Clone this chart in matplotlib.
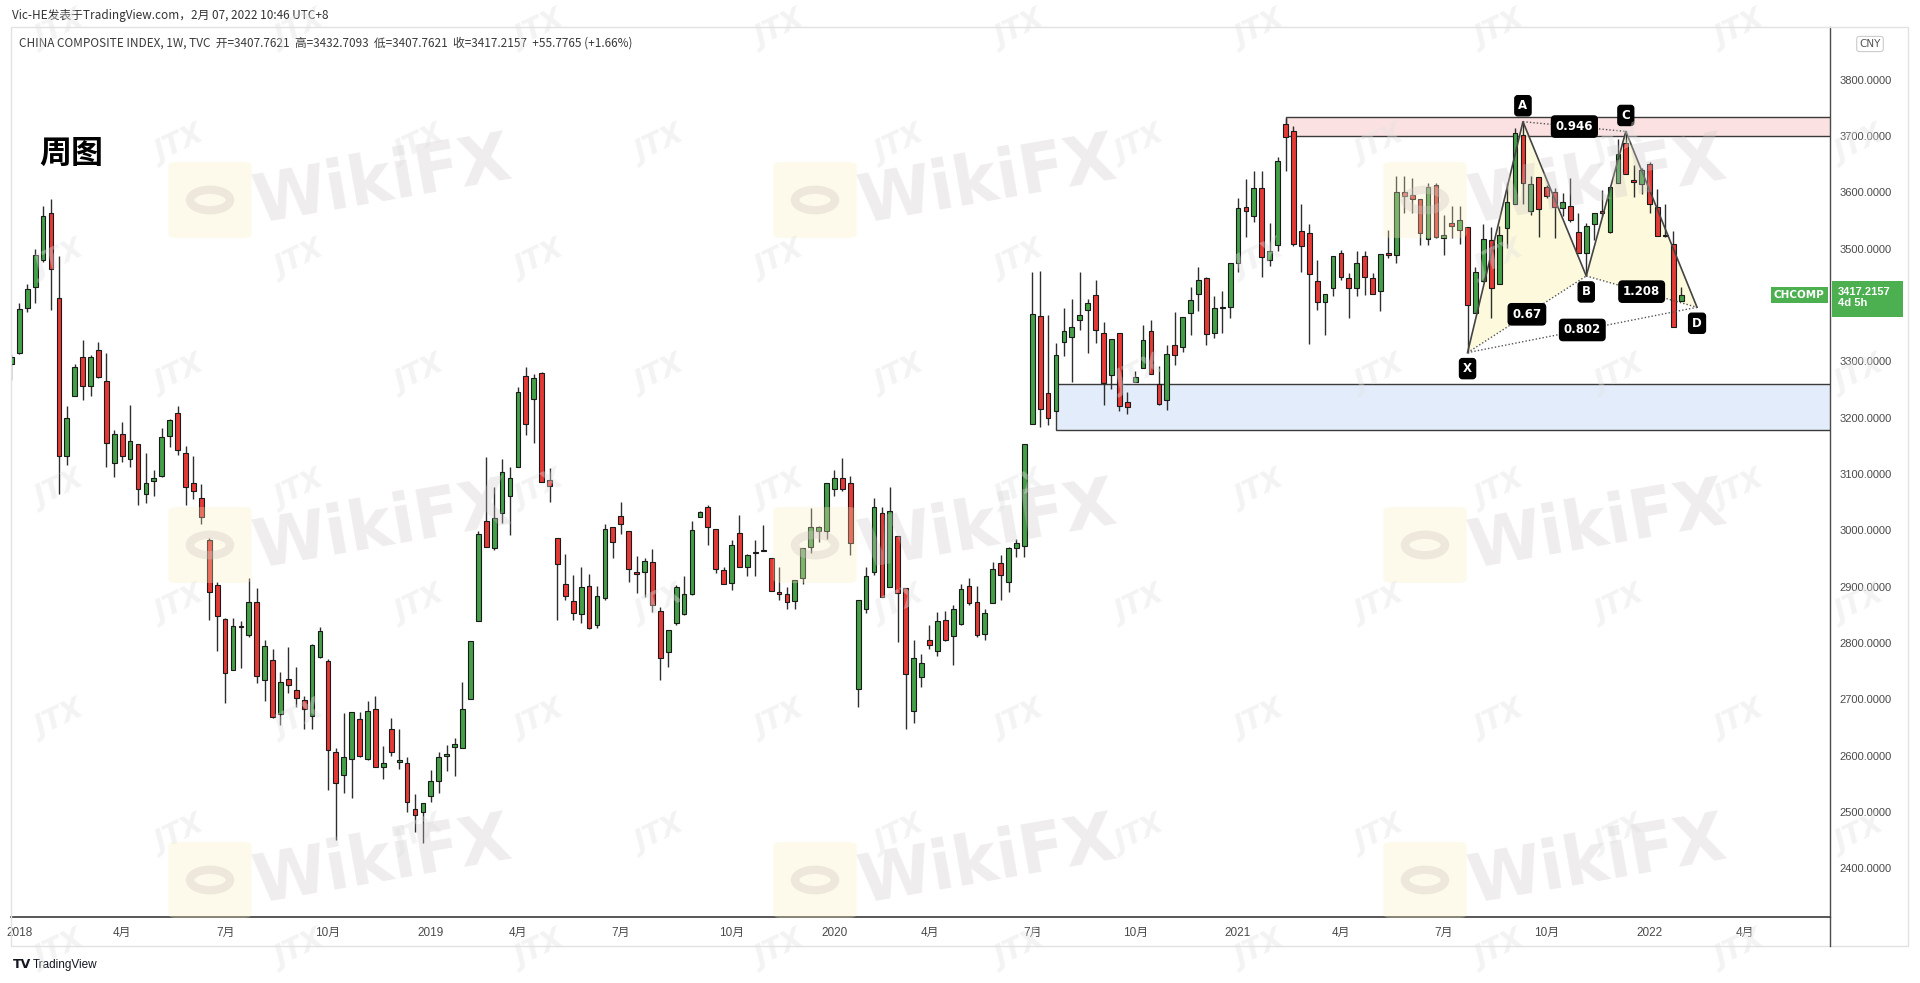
import matplotlib
matplotlib.use("Agg")
import matplotlib.pyplot as plt
from matplotlib.patches import Rectangle, Polygon, FancyBboxPatch, Circle
from matplotlib.lines import Line2D
import numpy as np

plt.rcParams["font.family"] = ["Noto Sans CJK SC", "DejaVu Sans"]

# weekly OHLC, China Composite Index (TVC), from the week of 2017-12-25
opens = [
    3296, 3315, 3394, 3431, 3480, 3564, 3412, 3131, 3238, 3307,
    3256, 3320, 3265, 3119, 3170, 3126, 3153, 3064, 3088, 3096,
    3168, 3208, 3137, 3083, 3057, 2983, 2903, 2842, 2752, 2828,
    2814, 2872, 2735, 2770, 2673, 2736, 2716, 2699, 2670, 2775,
    2768, 2606, 2566, 2594, 2665, 2594, 2682, 2580, 2647, 2589,
    2587, 2505, 2499, 2528, 2554, 2599, 2616, 2614, 2701, 2838,
    3016, 2969, 3030, 3060, 3113, 3273, 3233, 3280, 3090, 2986,
    2905, 2875, 2851, 2901, 2832, 2880, 3005, 3025, 2998, 2925,
    2925, 2944, 2856, 2783, 2835, 2851, 2887, 3024, 3042, 3002,
    2929, 2906, 2995, 2935, 2959, 2965, 2950, 2890, 2887, 2875,
    2915, 2971, 2999, 2998, 3073, 3092, 3083, 2718, 2860, 2925,
    3030, 2900, 2989, 2897, 2679, 2740, 2806, 2785, 2840, 2812,
    2834, 2901, 2873, 2816, 2871, 2941, 2909, 2968, 2972, 3189,
    3380, 3244, 3211, 3335, 3343, 3374, 3391, 3418, 3351, 3276,
    3351, 3227, 3263, 3288, 3353, 3260, 3231, 3329, 3326, 3386,
    3419, 3447, 3351, 3395, 3397, 3475, 3573, 3557, 3607, 3479,
    3506, 3721, 3708, 3532, 3527, 3443, 3406, 3430, 3493, 3447,
    3430, 3486, 3447, 3425, 3492, 3489, 3601, 3595, 3588, 3517,
    3613, 3518, 3545, 3533, 3539, 3385, 3443, 3515, 3438, 3536,
    3579, 3702, 3566, 3627, 3610, 3601, 3572, 3575, 3530, 3493,
    3543, 3566, 3530, 3616, 3688, 3622, 3615, 3650, 3573, 3523,
    3509, 3407.7621,
]
highs = [
    3312, 3403, 3437, 3499, 3576, 3588, 3487, 3221, 3296, 3338,
    3311, 3334, 3315, 3178, 3193, 3222, 3153, 3138, 3107, 3181,
    3197, 3221, 3150, 3131, 3082, 2986, 2909, 2845, 2844, 2838,
    2916, 2897, 2806, 2790, 2749, 2792, 2758, 2705, 2798, 2828,
    2772, 2613, 2675, 2677, 2677, 2696, 2705, 2617, 2666, 2647,
    2598, 2532, 2515, 2574, 2606, 2619, 2631, 2731, 2804, 2998,
    3130, 3077, 3126, 3112, 3254, 3290, 3277, 3281, 3110, 2986,
    2957, 2920, 2935, 2922, 2901, 3011, 3005, 3051, 2998, 2954,
    2950, 2966, 2864, 2823, 2903, 2919, 3017, 3035, 3045, 3002,
    2935, 2982, 3027, 2958, 2982, 3009, 2950, 2935, 2900, 2912,
    2968, 3039, 3008, 3084, 3107, 3128, 3096, 2876, 2935, 3058,
    3042, 3076, 2989, 2897, 2806, 2780, 2832, 2854, 2856, 2867,
    2905, 2915, 2901, 2861, 2944, 2956, 2971, 2984, 3153, 3459,
    3461, 3382, 3333, 3394, 3410, 3459, 3410, 3444, 3370, 3339,
    3351, 3246, 3282, 3364, 3373, 3292, 3329, 3388, 3378, 3432,
    3468, 3450, 3415, 3425, 3475, 3589, 3623, 3638, 3638, 3545,
    3663, 3732, 3718, 3579, 3544, 3479, 3420, 3487, 3498, 3456,
    3495, 3495, 3456, 3490, 3533, 3628, 3628, 3625, 3588, 3616,
    3616, 3560, 3576, 3576, 3539, 3467, 3544, 3538, 3540, 3616,
    3714, 3725, 3628, 3627, 3613, 3607, 3598, 3625, 3563, 3546,
    3563, 3604, 3609, 3694, 3708, 3648, 3643, 3654, 3605, 3580,
    3532, 3432.7093,
]
lows = [
    3267, 3312, 3388, 3404, 3476, 3391, 3064, 3116, 3238, 3231,
    3238, 3270, 3113, 3095, 3122, 3113, 3045, 3048, 3060, 3095,
    3148, 3134, 3045, 3055, 3011, 2840, 2785, 2693, 2752, 2755,
    2811, 2728, 2696, 2666, 2654, 2711, 2686, 2648, 2647, 2773,
    2539, 2450, 2533, 2524, 2598, 2592, 2580, 2558, 2600, 2577,
    2500, 2465, 2444, 2518, 2533, 2572, 2563, 2613, 2701, 2838,
    2970, 2965, 3012, 2991, 3113, 3169, 3154, 3086, 3051, 2840,
    2876, 2841, 2835, 2824, 2826, 2877, 2950, 2993, 2909, 2888,
    2882, 2854, 2735, 2758, 2832, 2850, 2885, 3023, 2974, 2924,
    2905, 2894, 2934, 2919, 2919, 2964, 2892, 2877, 2860, 2860,
    2905, 2959, 2980, 2984, 3060, 3069, 2956, 2687, 2853, 2920,
    2881, 2900, 2802, 2648, 2657, 2721, 2790, 2777, 2804, 2761,
    2832, 2867, 2811, 2805, 2870, 2876, 2891, 2952, 2953, 3189,
    3183, 3187, 3211, 3309, 3264, 3356, 3315, 3332, 3222, 3250,
    3211, 3206, 3263, 3288, 3277, 3222, 3214, 3293, 3317, 3347,
    3390, 3329, 3341, 3350, 3376, 3459, 3520, 3548, 3449, 3469,
    3495, 3637, 3504, 3459, 3331, 3391, 3347, 3415, 3444, 3376,
    3415, 3418, 3419, 3390, 3483, 3474, 3563, 3563, 3506, 3506,
    3518, 3489, 3518, 3508, 3315, 3385, 3441, 3376, 3438, 3501,
    3579, 3580, 3560, 3520, 3590, 3518, 3557, 3548, 3493, 3451,
    3515, 3557, 3528, 3616, 3632, 3592, 3597, 3563, 3522, 3520,
    3360, 3407.7621,
]
closes = [
    3308, 3392, 3429, 3489, 3558, 3464, 3131, 3200, 3289, 3256,
    3307, 3272, 3154, 3170, 3132, 3159, 3073, 3083, 3092, 3165,
    3195, 3143, 3076, 3069, 3023, 2891, 2847, 2747, 2830, 2829,
    2873, 2741, 2795, 2668, 2730, 2725, 2703, 2682, 2797, 2821,
    2609, 2551, 2598, 2677, 2599, 2679, 2580, 2587, 2606, 2593,
    2517, 2495, 2515, 2554, 2597, 2602, 2620, 2682, 2804, 2994,
    2970, 3022, 3104, 3092, 3246, 3189, 3271, 3086, 3079, 2940,
    2883, 2853, 2900, 2826, 2883, 3003, 2980, 3011, 2931, 2923,
    2945, 2867, 2774, 2823, 2899, 2886, 3000, 3032, 3006, 2932,
    2905, 2974, 2935, 2956, 2960, 2964, 2892, 2887, 2872, 2912,
    2968, 3005, 3005, 3084, 3092, 3074, 2977, 2876, 2919, 3041,
    2881, 3035, 2888, 2745, 2773, 2764, 2796, 2838, 2806, 2860,
    2895, 2870, 2814, 2853, 2931, 2921, 2968, 2978, 3153, 3384,
    3215, 3199, 3311, 3354, 3361, 3382, 3404, 3356, 3261, 3339,
    3221, 3218, 3272, 3338, 3277, 3225, 3313, 3311, 3378, 3409,
    3445, 3348, 3395, 3397, 3475, 3572, 3567, 3608, 3485, 3496,
    3656, 3698, 3509, 3504, 3455, 3406, 3419, 3487, 3450, 3430,
    3475, 3449, 3419, 3490, 3489, 3601, 3593, 3588, 3527, 3609,
    3520, 3524, 3540, 3551, 3400, 3459, 3517, 3430, 3524, 3582,
    3706, 3616, 3615, 3570, 3593, 3573, 3583, 3550, 3493, 3540,
    3563, 3564, 3609, 3668, 3633, 3619, 3640, 3580, 3522, 3522,
    3361, 3417.2157,
]

# x axis labels: bar index -> label
tick_bars = [1, 14, 27, 40, 53, 64, 77, 91, 104, 116, 129, 142, 155, 168, 181, 194, 207, 219]
tick_labels = ["2018", "4月", "7月", "10月", "2019", "4月", "7月", "10月",
               "2020", "4月", "7月", "10月", "2021", "4月", "7月", "10月", "2022", "4月"]
price_ticks = list(range(2400, 3900, 100))

# XABCD pattern
pattern_names = ["X", "A", "B", "C", "D"]
pattern_bars = [184, 191, 199, 204, 213]
pattern_prices = [3315.3, 3725.3, 3451.4, 3708.0, 3395.8]
ratio_pairs = [("X", "B"), ("A", "C"), ("B", "D"), ("X", "D")]
ratio_labels = ["0.67", "0.946", "1.208", "0.802"]

# zones: start bar, low, high
resist_zone = (161, 3700.0, 3733.0)
support_zone = (132, 3178.0, 3259.6)

last_price = 3417.2157

W, H = 1920, 983
GREEN = "#43a047"
RED = "#e53935"
XMIN, XMAX = -0.05, 229.8
YMIN, YMAX = 2313.4, 3893.4


def fx(px):
    return px / W


def fy(py):
    return 1 - py / H


fig = plt.figure(figsize=(W / 100, H / 100), dpi=100)
fig.patch.set_facecolor("white")

# watermarks (WikiFX / JTX), drawn faintly over the chart
for cx in (210, 815, 1425):
    for cy in (200, 545, 880):
        fig.patches.append(FancyBboxPatch((fx(cx - 34), fy(cy + 34)), fx(68), 68 / H,
                                          boxstyle="round,pad=0.004", transform=fig.transFigure,
                                          fc="#fbeec0", ec="none", alpha=0.3, zorder=5))
        fig.patches.append(Circle((fx(cx), fy(cy)), 20 / W, transform=fig.transFigure,
                                  fc="none", ec="#d0c8c2", lw=6, alpha=0.35, zorder=5))
        fig.text(fx(cx + 172), fy(cy - 18), "WikiFX", fontsize=48, fontweight="bold",
                 color="#cfc8c8", alpha=0.32, rotation=10, ha="center", va="center",
                 family="DejaVu Sans", zorder=5)
for row, jy in enumerate(range(30, 960, 115)):
    shift = 0 if row % 2 == 0 else 120
    for jx in range(60 + shift, 1900, 240):
        if 1700 < jx < 1830 and 220 < jy < 340:
            continue
        fig.text(fx(jx), fy(jy), "JTX", fontsize=20, fontweight="bold", style="italic",
                 color="#e2e2e2", alpha=0.4, rotation=25, ha="center", va="center",
                 family="DejaVu Sans", zorder=5)

ax = fig.add_axes([fx(11), fy(917), fx(1830) - fx(11), fy(27) - fy(917)])
ax.patch.set_alpha(0)
ax.set_xlim(XMIN, XMAX)
ax.set_ylim(YMIN, YMAX)

x = np.arange(len(opens))
o = np.array(opens)
c = np.array(closes)
up = c >= o
body_colors = np.where(up, GREEN, RED)

# zones
for (start, lo, hi), face in ((resist_zone, "#fbe1e1"), (support_zone, "#e3ecfb")):
    ax.add_patch(Rectangle((start, lo), 400, hi - lo, fc=face, ec="#3a3a3a", lw=1.0, zorder=1))

# harmonic pattern fill and legs
pts = dict(zip(pattern_names, zip(pattern_bars, pattern_prices)))
for tri in (("X", "A", "B"), ("B", "C", "D")):
    ax.add_patch(Polygon([pts[k] for k in tri], closed=True, fc="#fdf9d6", ec="none",
                         alpha=0.85, zorder=1.5))

ax.vlines(x, lows, highs, color="#2e2e2e", lw=1.0, zorder=2)
ax.bar(x, np.maximum(np.abs(c - o), 1.5), bottom=np.minimum(o, c), width=0.6,
       color=body_colors, edgecolor="#1a1a1a", linewidth=0.8, zorder=3)

ax.plot(pattern_bars, pattern_prices, color="#444444", lw=1.2, zorder=4)
for (a, b), lab in zip(ratio_pairs, ratio_labels):
    (xa, ya), (xb, yb) = pts[a], pts[b]
    ax.plot([xa, xb], [ya, yb], color="#555555", lw=1.0, ls=(0, (1, 1.5)), zorder=4)
    ax.text((xa + xb) / 2, (ya + yb) / 2, lab, color="white", fontsize=8.5,
            fontweight="bold", ha="center", va="center", family="DejaVu Sans", zorder=6,
            bbox=dict(boxstyle="round,pad=0.35,rounding_size=0.3", fc="black", ec="black"))

for name, bx, py in zip(pattern_names, pattern_bars, pattern_prices):
    dy = 11.5 if name in ("A", "C") else -11.5
    ax.annotate(name, (bx, py), xytext=(0, dy), textcoords="offset points",
                color="white", fontsize=8.5, fontweight="bold", ha="center", va="center",
                family="DejaVu Sans", zorder=6,
                bbox=dict(boxstyle="round,pad=0.3,rounding_size=0.25", fc="black", ec="black"))

# axes styling
for side in ("top", "left"):
    ax.spines[side].set_visible(False)
ax.spines["bottom"].set_color("#4a4a4a")
ax.spines["bottom"].set_linewidth(1.3)
ax.spines["right"].set_color("#4a4a4a")
ax.spines["right"].set_linewidth(1.0)

ax.yaxis.tick_right()
ax.set_yticks(price_ticks)
# the 3400 label sits under the last-price box
ax.set_yticklabels(["" if abs(p - last_price) < 30 else f"{p:.4f}" for p in price_ticks])
ax.tick_params(axis="y", length=0, pad=7, labelsize=8, labelcolor="#4a4a4a")
for lab in ax.get_yticklabels():
    lab.set_family("Liberation Sans")

ax.set_xticks(tick_bars)
ax.set_xticklabels(tick_labels)
ax.tick_params(axis="x", length=0, pad=7, labelsize=8.5, labelcolor="#4a4a4a")
for lab in ax.get_xticklabels():
    lab.set_family(["Liberation Sans", "Noto Sans CJK SC"])

# frame lines
fig.add_artist(Line2D([fx(1830), fx(1830)], [fy(917), fy(946)], color="#4a4a4a", lw=1.0))
fig.add_artist(Rectangle((fx(11), fy(946)), fx(1908) - fx(11), fy(27) - fy(946), fill=False,
                         ec="#e2e2e2", lw=1.0, transform=fig.transFigure))

# header texts
fig.text(fx(12), fy(15), "Vic-HE发表于TradingView.com，2月 07, 2022 10:46 UTC+8",
         fontsize=8.5, color="#333333", va="center", ha="left")
fig.text(fx(19), fy(43),
         "CHINA COMPOSITE INDEX, 1W, TVC  开=3407.7621  高=3432.7093  低=3407.7621  "
         "收=3417.2157  +55.7765 (+1.66%)",
         fontsize=8.5, color="#3a3a3a", va="center", ha="left")
fig.text(fx(39), fy(154), "周图", fontsize=23, fontweight="bold", color="black",
         va="center", ha="left")

# CNY box
fig.text(fx(1870), fy(44), "CNY", fontsize=7.5, color="#555555", ha="center", va="center",
         family="DejaVu Sans",
         bbox=dict(boxstyle="round,pad=0.25", fc="white", ec="#cccccc", lw=0.8))

# last price labels
ly = 79.6 + (3800 - last_price) * 0.5633
fig.text(fx(1799), fy(ly), "CHCOMP", fontsize=7.5, fontweight="bold", color="white",
         ha="center", va="center", family="DejaVu Sans", zorder=7,
         bbox=dict(boxstyle="square,pad=0.3", fc="#4caf50", ec="none"))
fig.patches.append(Rectangle((fx(1832), fy(ly + 22)), fx(1903) - fx(1832), 36 / H,
                             transform=fig.transFigure, fc="#4caf50", ec="none", zorder=6))
fig.text(fx(1838), fy(ly + 2), f"{last_price:.4f}\n4d 5h", fontsize=8, fontweight="bold",
         color="white", ha="left", va="center", family="Liberation Sans",
         linespacing=1.15, zorder=7)

# TradingView footer
fig.text(fx(13), fy(965), "TV", fontsize=9, fontweight="black", color="#131722",
         ha="left", va="center", family="DejaVu Sans")
fig.text(fx(33), fy(965), "TradingView", fontsize=8.5, color="#131722", ha="left",
         va="center", family="Liberation Sans")

fig.savefig("out.png", dpi=100, facecolor="white")
